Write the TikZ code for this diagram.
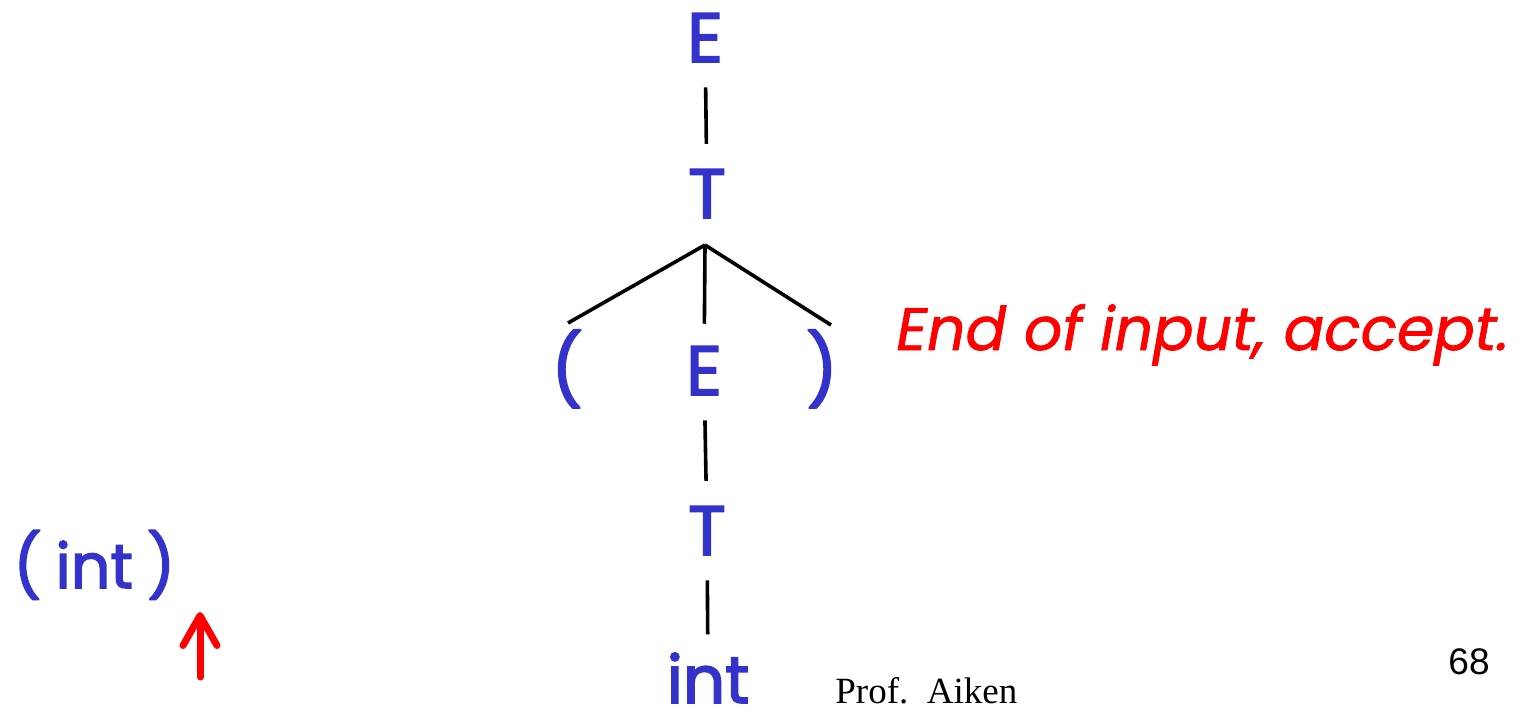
\documentclass[tikz,border=0pt]{standalone}
\usepackage{fontspec}
\setmainfont{Poppins}
\newfontfamily\symfont{Poppins}[FakeBold=2.5]
\newfontfamily\msgfont{Poppins}[FakeBold=1.2]
\newfontfamily\timesf{Liberation Serif}
\newfontfamily\arialf{Liberation Sans}
\usetikzlibrary{arrows.meta}
\definecolor{nodeblue}{RGB}{51,51,204}
\definecolor{alertred}{RGB}{255,0,0}
\begin{document}
\begin{tikzpicture}[x=0.5pt,y=-0.5pt,
  sym/.style={font=\symfont\fontsize{35}{40}\selectfont, text=nodeblue, inner sep=0pt, anchor=base},
  treeline/.style={line width=1.8pt, black, shorten <=12.5pt, shorten >=12.5pt},
  branch/.style={line width=1.8pt, black},
  msgtext/.style={font=\msgfont\itshape\fontsize{30}{36}\selectfont, text=alertred, inner sep=0pt, anchor=base west},
  pointer/.style={line width=3.5pt, alertred, line cap=round, -{Straight Barb[length=15pt,width=17pt,round]}}]
\useasboundingbox (0,0) rectangle (1518,717);
% tree nodes
\node[sym] (E1) at (705,62) {E};
\node[sym] (T1) at (707,218) {T};
\node[sym] (LP) at (567,395) {(};
\node[sym] (E2) at (704,395) {E};
\node[sym] (RP) at (822,395) {)};
\node[sym] (T2) at (707,555) {T};
\node[sym, font=\symfont\fontsize{33}{38}\selectfont] (INT) at (708,703) {int};
% branch point and free ends
\coordinate (br) at (705,245);
\coordinate (lend) at (568,323);
\coordinate (rend) at (831,325);
% connectors
\draw[treeline] (E1) -- (T1);
\draw[branch] (br) -- (lend);
\draw[treeline, shorten <=0pt, shorten >=11pt] (br) -- (E2);
\draw[branch] (br) -- (rend);
\draw[treeline] (E2) -- (T2);
\draw[treeline, shorten >=9pt] (T2) -- (INT);
% input and pointer
\node[sym, font=\symfont\fontsize{31}{36}\selectfont, anchor=base west] (input) at (13,588) {(\hspace{7pt}int\hspace{7pt})};
\coordinate (ptrB) at (200,677);
\coordinate (ptrT) at (200,612);
\draw[pointer] (ptrB) -- (ptrT);
% message
\node[msgtext] (msg) at (896,350) {End of input, accept.};
% footer
\node[font=\timesf\fontsize{18.5}{20}\selectfont, inner sep=0pt, anchor=base west] (prof) at (835,703) {Prof.\ \ Aiken};
\node[font=\arialf\fontsize{18.5}{20}\selectfont, inner sep=0pt, anchor=base east] (page) at (1490,674) {68};
\end{tikzpicture}
\end{document}
